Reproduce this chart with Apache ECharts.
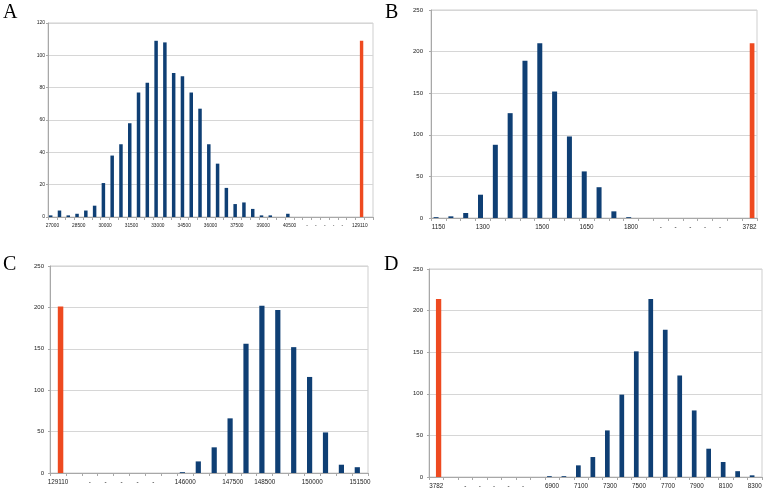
<!DOCTYPE html>
<html>
<head>
<meta charset="utf-8">
<script src="https://cdn.jsdelivr.net/npm/echarts@6/dist/echarts.min.js"></script>
<style>
html,body{margin:0;padding:0;background:#fff;}
#chart{width:767px;height:496px;}
</style>
</head>
<body>
<div id="chart"></div>
<script>
// ---------- Panel A ----------
const catsA = ['27000','27500','28000','28500','29000','29500','30000','30500','31000','31500','32000','32500','33000','33500','34000','34500','35000','35500','36000','36500','37000','37500','38000','38500','39000','39500','40000','40500','g1','g2','g3','g4','g5','g6','g7','129110','g8'];
const labelsA = ['27000','','','28500','','','30000','','','31500','','','33000','','','34500','','','36000','','','37500','','','39000','','','40500','','-','-','-','-','-','','129110',''];
const blueA = [1,4,1,2,4,7,21,38,45,58,77,83,109,108,89,87,77,67,45,33,18,8,9,5,1,1,0,2,null,null,null,null,null,null,null,null,null];
const redA  = [null,null,null,null,null,null,null,null,null,null,null,null,null,null,null,null,null,null,null,null,null,null,null,null,null,null,null,null,null,null,null,null,null,null,null,109,null];
const yTicksA = {min:0, max:120, interval:20};

// ---------- Panel B ----------
const catsB = ['1150','1200','1250','1300','1350','1400','1450','1500','1550','1600','1650','1700','1750','1800','g1','g2','g3','g4','g5','g6','g7','3782'];
const labelsB = ['1150','','','1300','','','','1500','','','1650','','','1800','','-','-','-','-','-','','3782'];
const blueB = [1,2,6,28,88,126,189,210,152,98,56,37,8,1,null,null,null,null,null,null,null,null];
const redB  = [null,null,null,null,null,null,null,null,null,null,null,null,null,null,null,null,null,null,null,null,null,210];
const yTicksB = {min:0, max:250, interval:50};

// ---------- Panel C ----------
const catsC = ['129110','g1','g2','g3','g4','g5','g6','g7','146000','146500','147000','147500','148000','148500','149000','149500','150000','150500','151000','151500'];
const labelsC = ['129110','','-','-','-','-','-','','146000','','','147500','','148500','','','150000','','','151500'];
const blueC = [null,null,null,null,null,null,null,null,1,14,31,66,156,202,197,152,116,49,10,7];
const redC  = [201,null,null,null,null,null,null,null,null,null,null,null,null,null,null,null,null,null,null,null];
const yTicksC = {min:0, max:250, interval:50};

// ---------- Panel D ----------
const catsD = ['3782','g1','g2','g3','g4','g5','g6','g7','6900','7000','7100','7200','7300','7400','7500','7600','7700','7800','7900','8000','8100','8200','8300'];
const labelsD = ['3782','','-','-','-','-','-','','6900','','7100','','7300','','7500','','7700','','7900','','8100','','8300'];
const blueD = [null,null,null,null,null,null,null,null,1,1,14,24,56,99,151,214,177,122,80,34,18,7,2];
const redD  = [214,null,null,null,null,null,null,null,null,null,null,null,null,null,null,null,null,null,null,null,null,null,null];
const yTicksD = {min:0, max:250, interval:50};

const panelLetters = ['A','B','C','D'];

const BLUE = '#0f3f74';
const RED = '#ee4a20';
const FONT = 'Liberation Sans';

const panels = [
  {cats:catsA, labels:labelsA, blue:blueA, red:redA, y:yTicksA, grid:{left:48, top:23, width:325, height:194}, fs:4.8, yfs:5, ym:3, bw:3.5, rw:3.4},
  {cats:catsB, labels:labelsB, blue:blueB, red:redB, y:yTicksB, grid:{left:431, top:10, width:326, height:208}, fs:6.3, yfs:6, ym:8, bw:5, rw:4.7},
  {cats:catsC, labels:labelsC, blue:blueC, red:redC, y:yTicksC, grid:{left:50, top:266, width:318, height:207}, fs:6.3, yfs:6, ym:6, bw:5.2, rw:5.5},
  {cats:catsD, labels:labelsD, blue:blueD, red:redD, y:yTicksD, grid:{left:429, top:269, width:333, height:208}, fs:6.3, yfs:6, ym:6, bw:4.7, rw:5.3}
];

const grids = [], xAxes = [], yAxes = [], series = [];
panels.forEach((p, i) => {
  grids.push(Object.assign({show:true, borderColor:'#cfcfcf', borderWidth:1, backgroundColor:'transparent'}, p.grid));
  xAxes.push({
    type:'category', gridIndex:i, data:p.cats,
    axisLine:{show:true, lineStyle:{color:'#a8a8a8', width:1}},
    axisTick:{show:true, length:3, lineStyle:{color:'#a8a8a8'}},
    axisLabel:{interval:0, fontSize:p.fs, fontFamily:FONT, color:'#222', margin:6,
      formatter:(v, idx) => p.labels[idx]}
  });
  yAxes.push({
    type:'value', gridIndex:i, min:p.y.min, max:p.y.max, interval:p.y.interval,
    axisLine:{show:true, lineStyle:{color:'#a8a8a8'}},
    axisTick:{show:true, length:2, lineStyle:{color:'#a8a8a8'}},
    splitLine:{show:true, lineStyle:{color:'#d6d6d6', width:1}},
    axisLabel:{fontSize:p.yfs, fontFamily:FONT, color:'#222', margin:p.ym}
  });
  series.push({type:'bar', xAxisIndex:i, yAxisIndex:i, data:p.blue, barWidth:p.bw, barGap:'0%',
    itemStyle:{color:BLUE}, silent:true, animation:false});
  series.push({type:'bar', xAxisIndex:i, yAxisIndex:i, data:p.red, barWidth:p.rw, barGap:'0%',
    itemStyle:{color:RED}, silent:true, animation:false});
});

const letterPos = [[3,14],[385,14],[3,266],[384,266]];
const graphic = panelLetters.map((t, i) => ({
  type:'text', left:letterPos[i][0], top:letterPos[i][1]-11,
  style:{text:t, fontFamily:'Liberation Serif', fontSize:20, fill:'#000'}
}));

const chart = echarts.init(document.getElementById('chart'), null, {renderer:'canvas'});
chart.setOption({
  animation:false,
  backgroundColor:'#fff',
  grid:grids, xAxis:xAxes, yAxis:yAxes, series:series, graphic:graphic
});
</script>
</body>
</html>
